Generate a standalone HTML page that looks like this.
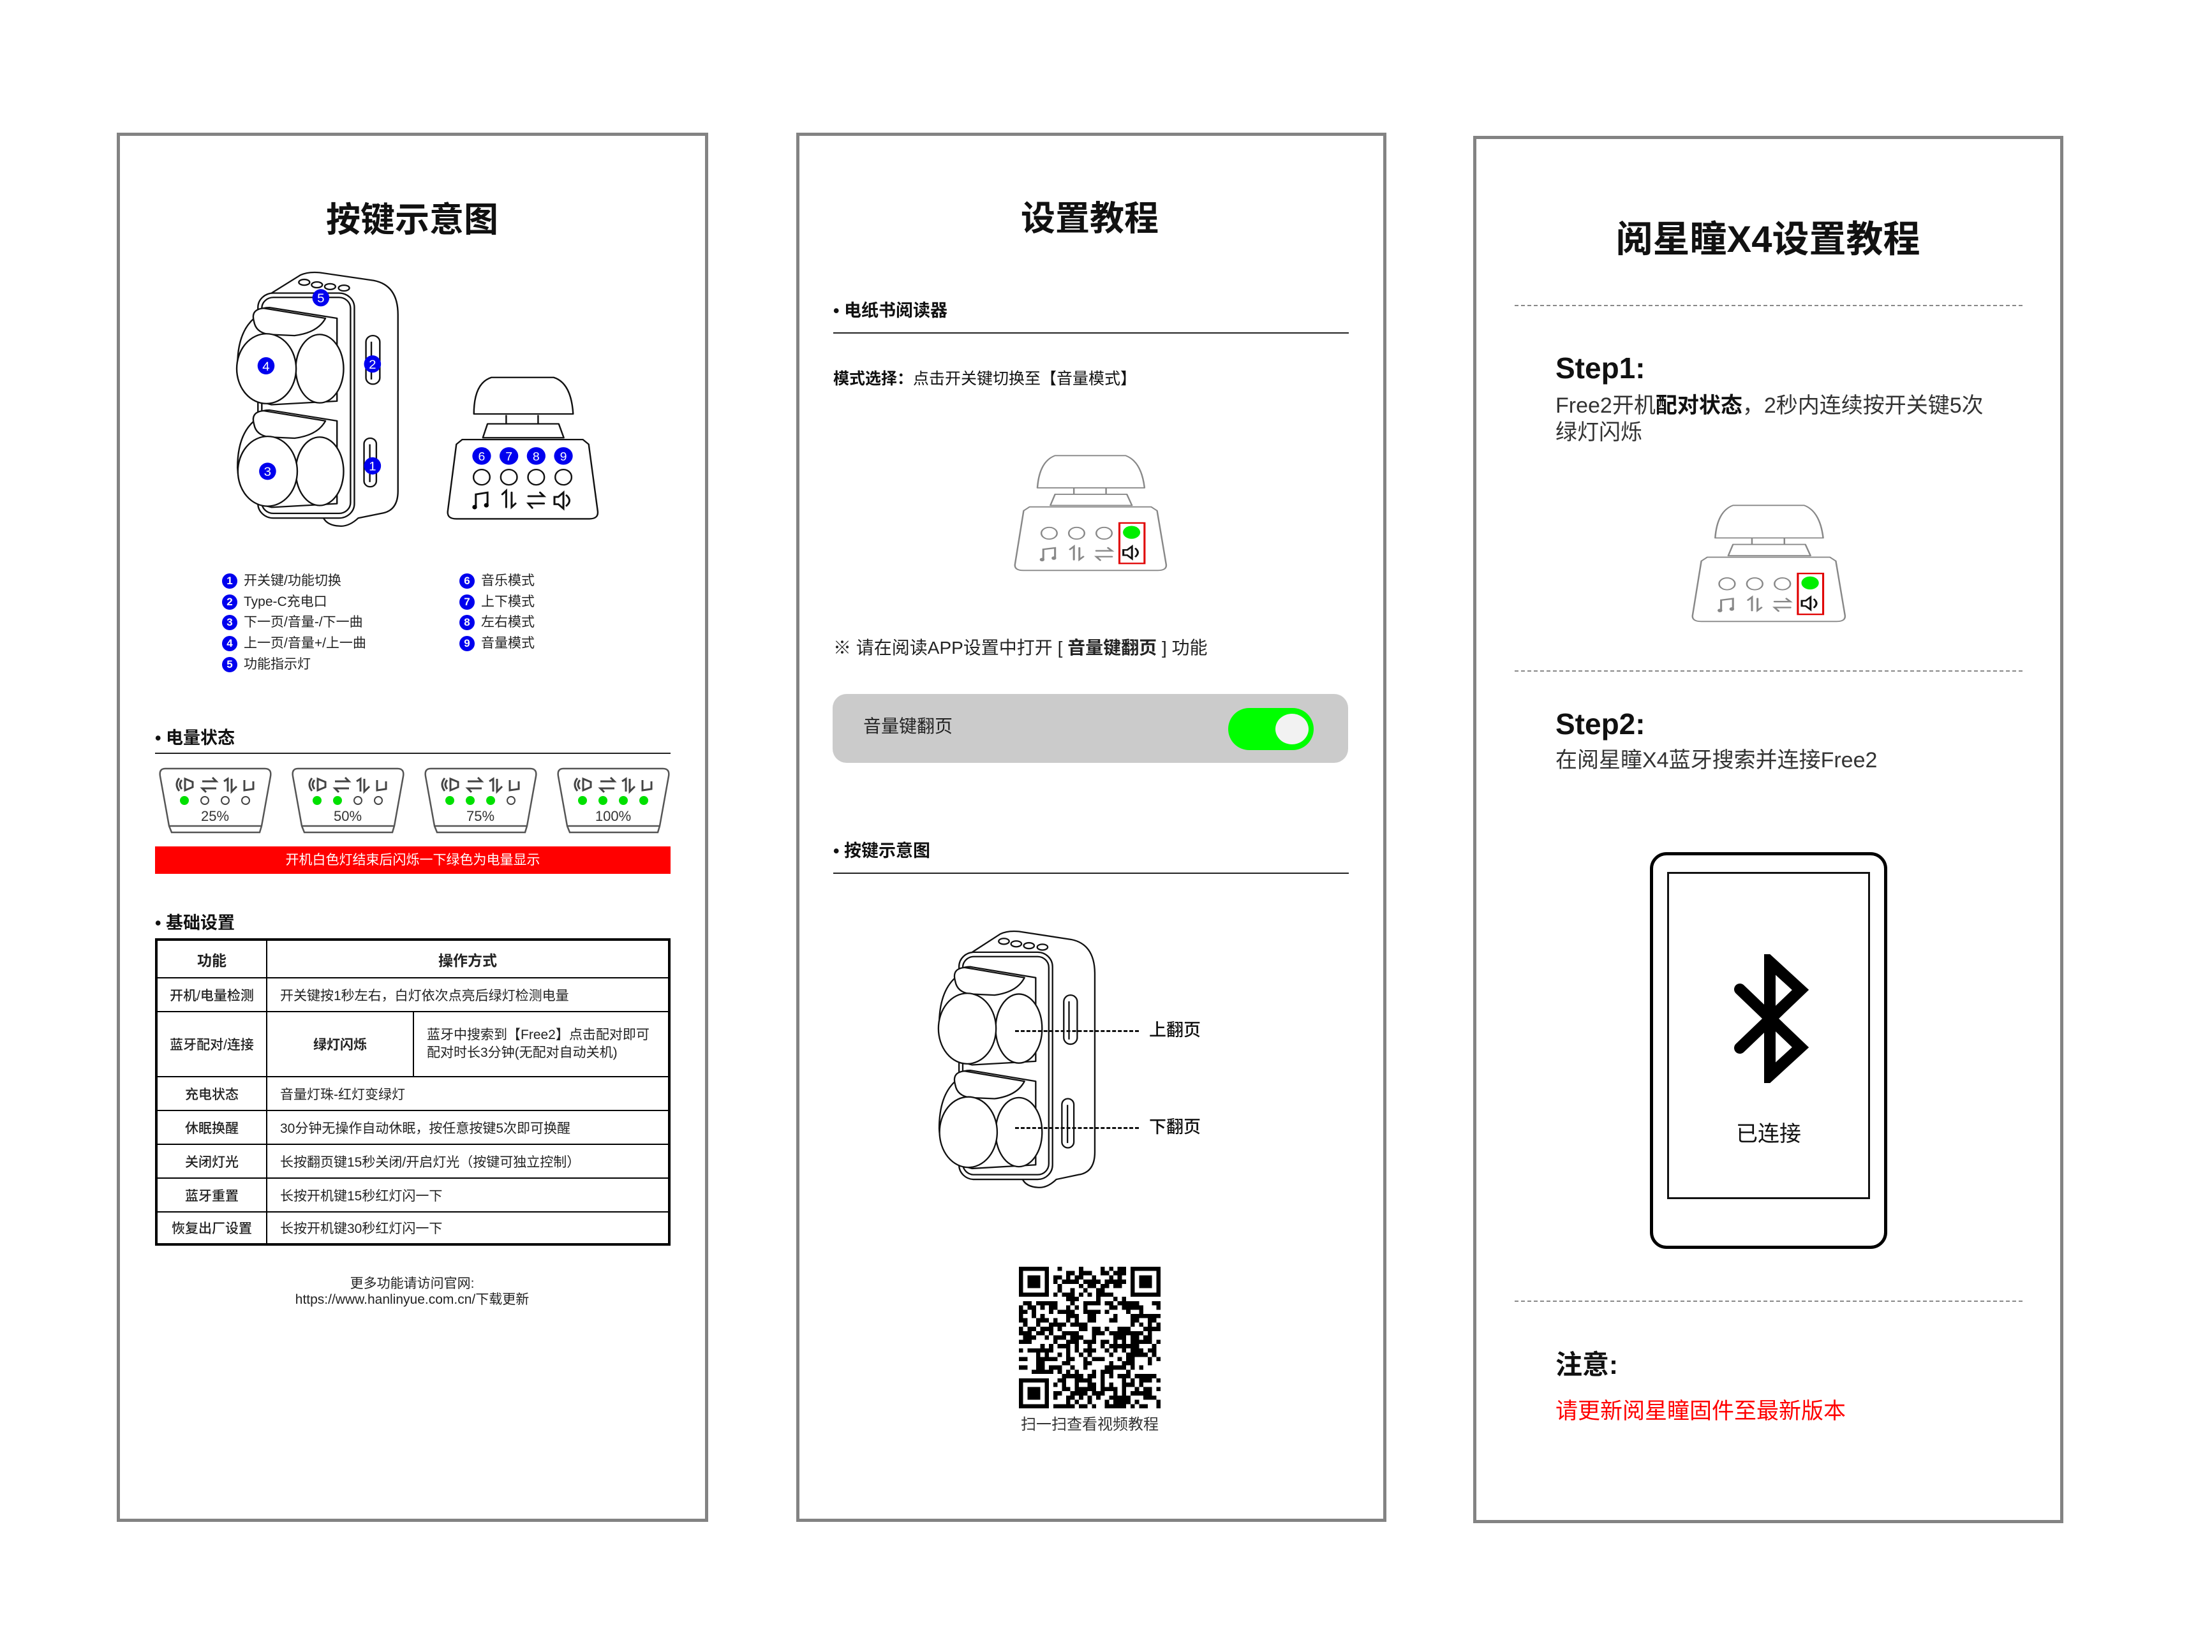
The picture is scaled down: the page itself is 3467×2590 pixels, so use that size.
<!DOCTYPE html>
<html><head><meta charset="utf-8">
<style>
*{margin:0;padding:0;box-sizing:border-box}
body{width:3467px;height:2590px;background:#fff;position:relative;overflow:hidden;font-family:"Liberation Sans","Noto Sans CJK SC",sans-serif;color:#111}
.a{position:absolute;white-space:nowrap}
.panel{position:absolute;border:5px solid #838383;background:#fff}
.title{font-weight:bold;font-size:54px;transform:translateX(-50%);line-height:60px}
.sec{font-weight:bold;font-size:27px;line-height:30px}
.hl{position:absolute;height:2px;background:#222}
.dash{position:absolute;height:0;border-top:2px dashed #888}
.leg{font-size:21px;line-height:26px;color:#222}
.b{display:inline-block;width:24px;height:24px;border-radius:50%;background:#0000ee;color:#fff;font-size:17px;line-height:24px;text-align:center;margin-right:10px;vertical-align:middle;font-weight:bold}
table{border-collapse:collapse;position:absolute;left:243px;top:1471px;width:808px;border:4px solid #000}
td{border:2px solid #000;font-size:21px;color:#222;padding:0 0 0 20px}
td.c{text-align:center;padding:0;font-weight:bold}
</style></head><body>

<svg width="0" height="0" style="position:absolute">
<defs>
<symbol id="dev" viewBox="300 380 440 730" preserveAspectRatio="none">
<g fill="#fff" stroke="#111" stroke-width="4" stroke-linejoin="round">
<path d="M400 450 L475 400 Q495 390 525 393 L665 415 Q728 428 728 510 L728 1000 Q728 1055 685 1062 L625 1075 Q600 1100 575 1097 Q545 1095 535 1075 L400 1065 Z"/>
<rect x="365" y="450" width="250" height="625" rx="40"/>
<rect x="375" y="462" width="230" height="600" rx="30"/>
<ellipse cx="485" cy="420" rx="14" ry="8"/><ellipse cx="518" cy="427" rx="14" ry="8"/><ellipse cx="552" cy="432" rx="14" ry="8"/><ellipse cx="588" cy="436" rx="14" ry="8"/>
<path d="M355 520 Q360 490 395 490 L570 520 L570 750 L400 760 Q315 740 312 650 Q312 560 355 520 Z"/>
<ellipse cx="525" cy="660" rx="62" ry="95"/>
<path d="M355 530 Q345 495 380 492 L540 520 Q520 560 460 568 L395 565 Q360 560 355 530Z"/>
<ellipse cx="387" cy="660" rx="77" ry="97"/>
<path d="M355 805 Q360 775 395 775 L570 805 L570 1035 L400 1045 Q315 1025 312 935 Q312 845 355 805 Z"/>
<ellipse cx="525" cy="945" rx="62" ry="95"/>
<path d="M355 815 Q345 780 380 777 L540 805 Q520 845 460 853 L395 850 Q360 845 355 815Z"/>
<ellipse cx="390" cy="945" rx="77" ry="97"/>
<rect x="645" y="568" width="36" height="135" rx="18"/><line x1="659" y1="585" x2="659" y2="690"/>
<rect x="640" y="853" width="32" height="135" rx="16"/><line x1="655" y1="870" x2="655" y2="975"/>
</g>
</symbol>
<symbol id="knobshape" viewBox="840 675 400 405" preserveAspectRatio="none">
<g fill="#fff" stroke-width="4" stroke-linejoin="round">
<path d="M915 785 Q915 700 960 685 L1120 685 Q1165 700 1170 785 Z"/>
<line x1="998" y1="788" x2="998" y2="812"/><line x1="1080" y1="788" x2="1080" y2="812"/>
<path d="M938 850 L950 812 L1133 812 L1146 850 Z"/>
<path d="M870 868 L885 855 L1195 855 L1210 868 L1233 1050 Q1236 1072 1212 1072 L870 1072 Q845 1072 848 1050 Z"/>
<circle cx="935" cy="958" r="21"/><circle cx="1005" cy="958" r="21"/><circle cx="1075" cy="958" r="21"/>
</g>
<g stroke-width="5" fill="none" stroke-linecap="round">
<path d="M920 1040 L920 1005 L950 1000 L950 1035"/>
<path d="M988 1005 L998 995 L998 1040 M1012 1000 L1012 1040 L1022 1030"/>
<path d="M1055 1010 L1095 1010 L1085 1000 M1095 1030 L1055 1030 L1065 1042"/>
<path d="M1122 1012 L1132 1012 L1145 1000 L1145 1044 L1132 1032 L1122 1032 Z M1153 1008 Q1168 1022 1153 1036"/>
</g>
<g stroke="none"><circle cx="917" cy="1040" r="6"/><circle cx="947" cy="1035" r="6"/></g>
</symbol>
<symbol id="knobg" viewBox="840 675 400 405" preserveAspectRatio="none">
<g fill="#fff" stroke="#888" stroke-width="4" stroke-linejoin="round">
<path d="M905 790 Q910 700 950 680 L1130 680 Q1170 700 1178 790 Z"/>
<line x1="998" y1="790" x2="998" y2="812"/><line x1="1080" y1="790" x2="1080" y2="812"/>
<path d="M938 850 L950 812 L1133 812 L1146 850 Z"/>
<path d="M870 868 L885 855 L1195 855 L1210 868 L1233 1050 Q1236 1072 1212 1072 L870 1072 Q845 1072 848 1050 Z"/>
<circle cx="935" cy="945" r="20"/><circle cx="1005" cy="945" r="20"/><circle cx="1075" cy="945" r="20"/>
</g>
<g stroke="#888" stroke-width="5" fill="none" stroke-linecap="round">
<path d="M920 1035 L920 1000 L950 995 L950 1030"/>
<path d="M988 1000 L998 990 L998 1035 M1012 995 L1012 1035 L1022 1025"/>
<path d="M1055 1005 L1095 1005 L1085 995 M1095 1025 L1055 1025 L1065 1037"/>
</g>
<g fill="#888"><circle cx="917" cy="1035" r="6"/><circle cx="947" cy="1030" r="6"/></g>
<circle cx="1145" cy="942" r="22" fill="#00ee00"/>
<path d="M1124 1002 L1134 1002 L1146 990 L1146 1032 L1134 1020 L1124 1020 Z M1154 996 Q1168 1011 1154 1026" fill="none" stroke="#111" stroke-width="5"/>
<rect x="1114" y="910" width="64" height="138" fill="none" stroke="#e00000" stroke-width="5"/>
</symbol>
</defs>
</svg>

<!-- PANEL 1 -->
<div class="panel" style="left:183px;top:208px;width:927px;height:2178px"></div>
<div class="a title" style="left:646px;top:315px">按键示意图</div>

<svg class="a" style="left:365px;top:420px" width="266" height="412" viewBox="300 380 440 730" preserveAspectRatio="none">
<use href="#dev" x="300" y="380" width="440" height="730"/>
<g fill="#0000ee"><ellipse cx="528" cy="463" rx="22" ry="24"/><ellipse cx="662" cy="647" rx="22" ry="24"/><ellipse cx="386" cy="652" rx="22" ry="24"/><ellipse cx="662" cy="930" rx="22" ry="24"/><ellipse cx="390" cy="945" rx="22" ry="24"/></g>
<g fill="#fff" font-size="34" text-anchor="middle" font-family="Liberation Sans"><text x="528" y="476">5</text><text x="662" y="660">2</text><text x="386" y="665">4</text><text x="662" y="943">1</text><text x="390" y="958">3</text></g>
</svg>

<svg class="a" style="left:697px;top:586px" width="244" height="232" viewBox="840 675 400 405" preserveAspectRatio="none">
<g stroke="#111"><use href="#knobshape" x="840" y="675" width="400" height="405"/></g>
<circle cx="1145" cy="958" r="21" fill="#fff" stroke="#111" stroke-width="4"/>
<g fill="#0000ee"><circle cx="935" cy="900" r="24"/><circle cx="1005" cy="900" r="24"/><circle cx="1075" cy="900" r="24"/><circle cx="1145" cy="900" r="24"/></g>
<g fill="#fff" font-size="32" text-anchor="middle" font-family="Liberation Sans"><text x="935" y="912">6</text><text x="1005" y="912">7</text><text x="1075" y="912">8</text><text x="1145" y="912">9</text></g>
</svg>

<div class="a leg" style="left:348px;top:898px"><span class="b">1</span>开关键/功能切换</div>
<div class="a leg" style="left:348px;top:931px"><span class="b">2</span>Type-C充电口</div>
<div class="a leg" style="left:348px;top:963px"><span class="b">3</span>下一页/音量-/下一曲</div>
<div class="a leg" style="left:348px;top:996px"><span class="b">4</span>上一页/音量+/上一曲</div>
<div class="a leg" style="left:348px;top:1029px"><span class="b">5</span>功能指示灯</div>
<div class="a leg" style="left:720px;top:898px"><span class="b">6</span>音乐模式</div>
<div class="a leg" style="left:720px;top:931px"><span class="b">7</span>上下模式</div>
<div class="a leg" style="left:720px;top:963px"><span class="b">8</span>左右模式</div>
<div class="a leg" style="left:720px;top:996px"><span class="b">9</span>音量模式</div>

<div class="a sec" style="left:243px;top:1142px">• 电量状态</div>
<div class="hl" style="left:243px;top:1180px;width:808px"></div>

<svg class="a" style="left:247px;top:1203px" width="810" height="104" viewBox="0 0 810 104">
<defs><g id="bx"><path d="M12 2 L168 2 Q179 2 177 14 L163 92 L160 102 L22 102 L18 92 L4 14 Q2 2 12 2 Z M18 92 L163 92" fill="#fff" stroke="#555" stroke-width="2.5"/>
<g fill="none" stroke="#444" stroke-width="3"><path d="M43 18 L43 36 L55 31 L55 23 Z M38 20 Q32 27 38 34 M34 17 Q26 27 34 37"/><path d="M70 22 L92 22 L86 16 M92 33 L70 33 L76 39"/><path d="M104 22 L110 18 L110 38 M116 18 L116 38 L124 30"/><path d="M136 20 L136 36 L150 34 L150 22"/></g></g></defs>
<g><use href="#bx"/><circle cx="42" cy="52" r="7" fill="#00e000"/><circle cx="74" cy="52" r="6" fill="none" stroke="#444" stroke-width="2"/><circle cx="106" cy="52" r="6" fill="none" stroke="#444" stroke-width="2"/><circle cx="138" cy="52" r="6" fill="none" stroke="#444" stroke-width="2"/><text x="90" y="84" font-size="22" text-anchor="middle" fill="#333" font-family="Liberation Sans">25%</text></g>
<g transform="translate(208,0)"><use href="#bx"/><circle cx="42" cy="52" r="7" fill="#00e000"/><circle cx="74" cy="52" r="7" fill="#00e000"/><circle cx="106" cy="52" r="6" fill="none" stroke="#444" stroke-width="2"/><circle cx="138" cy="52" r="6" fill="none" stroke="#444" stroke-width="2"/><text x="90" y="84" font-size="22" text-anchor="middle" fill="#333" font-family="Liberation Sans">50%</text></g>
<g transform="translate(416,0)"><use href="#bx"/><circle cx="42" cy="52" r="7" fill="#00e000"/><circle cx="74" cy="52" r="7" fill="#00e000"/><circle cx="106" cy="52" r="7" fill="#00e000"/><circle cx="138" cy="52" r="6" fill="none" stroke="#444" stroke-width="2"/><text x="90" y="84" font-size="22" text-anchor="middle" fill="#333" font-family="Liberation Sans">75%</text></g>
<g transform="translate(624,0)"><use href="#bx"/><circle cx="42" cy="52" r="7" fill="#00e000"/><circle cx="74" cy="52" r="7" fill="#00e000"/><circle cx="106" cy="52" r="7" fill="#00e000"/><circle cx="138" cy="52" r="7" fill="#00e000"/><text x="90" y="84" font-size="22" text-anchor="middle" fill="#333" font-family="Liberation Sans">100%</text></g>
</svg>

<div class="a" style="left:243px;top:1327px;width:808px;height:43px;background:#ff0000;color:#fff;font-size:21px;line-height:43px;text-align:center">开机白色灯结束后闪烁一下绿色为电量显示</div>

<div class="a sec" style="left:243px;top:1432px">• 基础设置</div>

<table>
<tr style="height:60px"><td class="c" style="width:173px;font-size:23px">功能</td><td class="c" colspan="2" style="font-size:23px">操作方式</td></tr>
<tr style="height:53px"><td class="c" style="font-weight:500">开机/电量检测</td><td colspan="2">开关键按1秒左右，白灯依次点亮后绿灯检测电量</td></tr>
<tr style="height:102px"><td class="c" style="font-weight:500">蓝牙配对/连接</td><td class="c" style="width:230px">绿灯闪烁</td><td style="line-height:28px">蓝牙中搜索到【Free2】点击配对即可<br>配对时长3分钟(无配对自动关机)</td></tr>
<tr style="height:53px"><td class="c" style="font-weight:500">充电状态</td><td colspan="2">音量灯珠-红灯变绿灯</td></tr>
<tr style="height:53px"><td class="c" style="font-weight:500">休眠换醒</td><td colspan="2">30分钟无操作自动休眠，按任意按键5次即可换醒</td></tr>
<tr style="height:53px"><td class="c" style="font-weight:500">关闭灯光</td><td colspan="2">长按翻页键15秒关闭/开启灯光（按键可独立控制）</td></tr>
<tr style="height:53px"><td class="c" style="font-weight:500">蓝牙重置</td><td colspan="2">长按开机键15秒红灯闪一下</td></tr>
<tr style="height:51px"><td class="c" style="font-weight:500">恢复出厂设置</td><td colspan="2">长按开机键30秒红灯闪一下</td></tr>
</table>

<div class="a" style="left:646px;top:2000px;transform:translateX(-50%);text-align:center;font-size:21px;line-height:25px;color:#222">更多功能请访问官网:<br>https://www.hanlinyue.com.cn/下载更新</div>

<!-- PANEL 2 -->
<div class="panel" style="left:1248px;top:208px;width:925px;height:2178px"></div>
<div class="a title" style="left:1708px;top:313px">设置教程</div>
<div class="a sec" style="left:1306px;top:472px">• 电纸书阅读器</div>
<div class="hl" style="left:1306px;top:521px;width:808px"></div>
<div class="a" style="left:1306px;top:579px;font-size:25px;line-height:30px"><b>模式选择：</b>点击开关键切换至【音量模式】</div>

<svg class="a" style="left:1586px;top:712px" width="246" height="186" viewBox="840 675 400 405" preserveAspectRatio="none">
<use href="#knobg" x="840" y="675" width="400" height="405"/>
</svg>

<div class="a" style="left:1306px;top:1000px;font-size:28px;line-height:32px;color:#222">※ 请在阅读APP设置中打开 [ <b>音量键翻页</b> ] 功能</div>
<div class="a" style="left:1305px;top:1088px;width:808px;height:108px;background:#cbcbcb;border-radius:22px"></div>
<div class="a" style="left:1353px;top:1122px;font-size:28px;line-height:34px;color:#222">音量键翻页</div>
<div class="a" style="left:1925px;top:1110px;width:134px;height:66px;background:#00ff00;border-radius:33px"></div>
<div class="a" style="left:1999px;top:1119px;width:52px;height:48px;background:#f2f2f2;border-radius:50%"></div>

<div class="a sec" style="left:1306px;top:1319px">• 按键示意图</div>
<div class="hl" style="left:1306px;top:1368px;width:808px"></div>

<svg class="a" style="left:1465px;top:1453px" width="258" height="416" viewBox="300 380 440 730" preserveAspectRatio="none">
<use href="#dev" x="300" y="380" width="440" height="730"/>
</svg>
<div class="dash" style="left:1591px;top:1615px;width:194px;border-top:3px dashed #111"></div>
<div class="dash" style="left:1591px;top:1767px;width:194px;border-top:3px dashed #111"></div>
<div class="a" style="left:1801px;top:1600px;font-size:27px;line-height:30px;font-weight:500">上翻页</div>
<div class="a" style="left:1801px;top:1752px;font-size:27px;line-height:30px;font-weight:500">下翻页</div>

<svg id="qr" class="a" style="left:1597px;top:1986px" width="222" height="222" viewBox="0 0 33 33" shape-rendering="crispEdges">
<g fill="#000"><rect x="0" y="0" width="7" height="7"/><rect x="26" y="0" width="7" height="7"/><rect x="0" y="26" width="7" height="7"/></g>
<g fill="#fff"><rect x="1" y="1" width="5" height="5"/><rect x="27" y="1" width="5" height="5"/><rect x="1" y="27" width="5" height="5"/></g>
<g fill="#000"><rect x="2" y="2" width="3" height="3"/><rect x="28" y="2" width="3" height="3"/><rect x="2" y="28" width="3" height="3"/></g>
</svg>
<div class="a" style="left:1708px;top:2220px;transform:translateX(-50%);font-size:24px;line-height:28px;color:#333">扫一扫查看视频教程</div>

<!-- PANEL 3 -->
<div class="panel" style="left:2309px;top:213px;width:925px;height:2175px"></div>
<div class="a title" style="left:2771px;top:346px;font-size:58px">阅星瞳X4设置教程</div>
<div class="dash" style="left:2374px;top:478px;width:796px"></div>
<div class="dash" style="left:2374px;top:1051px;width:796px"></div>
<div class="dash" style="left:2374px;top:2039px;width:796px"></div>

<div class="a" style="left:2438px;top:552px;font-size:46px;line-height:50px;font-weight:bold">Step1:</div>
<div class="a" style="left:2438px;top:615px;font-size:34px;line-height:42px;color:#333">Free2开机<b style="color:#111">配对状态</b>，2秒内连续按开关键5次<br>绿灯闪烁</div>

<svg class="a" style="left:2648px;top:790px" width="248" height="188" viewBox="840 675 400 405" preserveAspectRatio="none">
<use href="#knobg" x="840" y="675" width="400" height="405"/>
</svg>

<div class="a" style="left:2438px;top:1110px;font-size:46px;line-height:50px;font-weight:bold">Step2:</div>
<div class="a" style="left:2438px;top:1171px;font-size:34px;line-height:42px;color:#333">在阅星瞳X4蓝牙搜索并连接Free2</div>

<div class="a" style="left:2586px;top:1336px;width:372px;height:622px;border:5px solid #000;border-radius:26px"></div>
<div class="a" style="left:2613px;top:1367px;width:318px;height:513px;border:3px solid #111"></div>
<svg class="a" style="left:2712px;top:1496px" width="140" height="202" viewBox="0 0 140 202">
<path d="M15 55 L110 146 L62 190 L62 12 L110 56 L15 147" fill="none" stroke="#000" stroke-width="18" stroke-linejoin="miter" stroke-linecap="round"/>
</svg>
<div class="a" style="left:2772px;top:1758px;transform:translateX(-50%);font-size:34px;line-height:40px">已连接</div>

<div class="a" style="left:2438px;top:2116px;font-size:42px;line-height:48px;font-weight:bold">注意:</div>
<div class="a" style="left:2438px;top:2192px;font-size:35px;line-height:42px;color:#ff0000">请更新阅星瞳固件至最新版本</div>

<script>
(function(){
var s=document.getElementById('qr'),seed=12345,h='';
function r(){seed=(seed*1103515245+12345)&0x7fffffff;return seed/0x7fffffff;}
for(var y=0;y<33;y++)for(var x=0;x<33;x++){
 if((x<8&&y<8)||(x>24&&y<8)||(x<8&&y>24))continue;
 if(r()<0.52)h+='<rect x="'+x+'" y="'+y+'" width="1" height="1"/>';
}
s.insertAdjacentHTML('beforeend','<g fill="#000">'+h+'</g>');
})();
</script>
</body></html>
